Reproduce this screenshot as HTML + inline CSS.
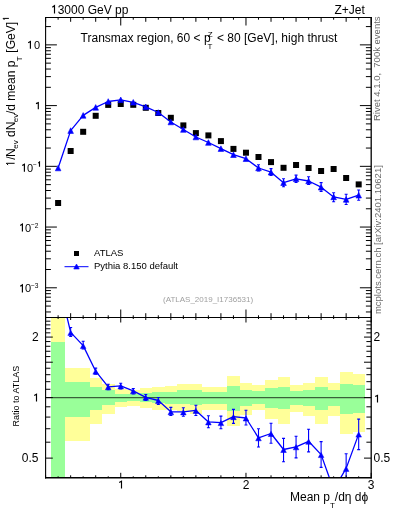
<!DOCTYPE html>
<html><head><meta charset="utf-8"><style>html,body{margin:0;padding:0;background:#fff;width:393px;height:512px;overflow:hidden;position:relative}</style></head><body>
<svg width="393" height="512" viewBox="0 0 393 512" style="position:absolute;left:0;top:0;will-change:transform">
<defs><clipPath id="cm"><rect x="45.60" y="17.50" width="325.60" height="300.00"/></clipPath>
<clipPath id="cr"><rect x="45.60" y="317.50" width="325.60" height="160.30"/></clipPath></defs>
<g clip-path="url(#cr)" shape-rendering="crispEdges">
<rect x="51.00" y="300.00" width="14.00" height="200.00" fill="#ffff99"/>
<rect x="65.00" y="368.10" width="12.00" height="72.70" fill="#ffff99"/>
<rect x="77.00" y="368.10" width="13.00" height="73.30" fill="#ffff99"/>
<rect x="90.00" y="378.00" width="12.00" height="45.70" fill="#ffff99"/>
<rect x="102.00" y="384.20" width="13.00" height="29.80" fill="#ffff99"/>
<rect x="115.00" y="389.00" width="12.00" height="17.50" fill="#ffff99"/>
<rect x="127.00" y="390.00" width="13.00" height="15.50" fill="#ffff99"/>
<rect x="140.00" y="388.40" width="12.00" height="19.40" fill="#ffff99"/>
<rect x="152.00" y="387.10" width="13.00" height="22.40" fill="#ffff99"/>
<rect x="165.00" y="386.20" width="12.00" height="23.80" fill="#ffff99"/>
<rect x="177.00" y="384.20" width="13.00" height="26.40" fill="#ffff99"/>
<rect x="190.00" y="384.00" width="12.00" height="29.50" fill="#ffff99"/>
<rect x="202.00" y="387.10" width="13.00" height="22.60" fill="#ffff99"/>
<rect x="215.00" y="387.10" width="12.00" height="22.60" fill="#ffff99"/>
<rect x="227.00" y="376.10" width="13.00" height="49.60" fill="#ffff99"/>
<rect x="240.00" y="383.30" width="12.00" height="31.40" fill="#ffff99"/>
<rect x="252.00" y="385.10" width="13.00" height="24.70" fill="#ffff99"/>
<rect x="265.00" y="380.40" width="13.00" height="38.60" fill="#ffff99"/>
<rect x="278.00" y="377.20" width="12.00" height="46.60" fill="#ffff99"/>
<rect x="290.00" y="385.10" width="13.00" height="26.40" fill="#ffff99"/>
<rect x="303.00" y="383.40" width="12.00" height="32.20" fill="#ffff99"/>
<rect x="315.00" y="376.90" width="13.00" height="46.90" fill="#ffff99"/>
<rect x="328.00" y="383.00" width="12.00" height="32.80" fill="#ffff99"/>
<rect x="340.00" y="372.20" width="13.00" height="61.70" fill="#ffff99"/>
<rect x="353.00" y="374.10" width="12.00" height="57.40" fill="#ffff99"/>
<rect x="51.00" y="342.00" width="14.00" height="158.00" fill="#99ff99"/>
<rect x="65.00" y="381.80" width="12.00" height="34.80" fill="#99ff99"/>
<rect x="77.00" y="381.80" width="13.00" height="34.80" fill="#99ff99"/>
<rect x="90.00" y="387.10" width="12.00" height="22.80" fill="#99ff99"/>
<rect x="102.00" y="390.00" width="13.00" height="15.30" fill="#99ff99"/>
<rect x="115.00" y="393.50" width="12.00" height="8.20" fill="#99ff99"/>
<rect x="127.00" y="394.00" width="13.00" height="7.00" fill="#99ff99"/>
<rect x="140.00" y="393.40" width="12.00" height="9.00" fill="#99ff99"/>
<rect x="152.00" y="392.20" width="13.00" height="10.50" fill="#99ff99"/>
<rect x="165.00" y="391.50" width="12.00" height="12.10" fill="#99ff99"/>
<rect x="177.00" y="390.30" width="13.00" height="14.00" fill="#99ff99"/>
<rect x="190.00" y="389.90" width="12.00" height="15.50" fill="#99ff99"/>
<rect x="202.00" y="392.10" width="13.00" height="11.50" fill="#99ff99"/>
<rect x="215.00" y="392.10" width="12.00" height="11.50" fill="#99ff99"/>
<rect x="227.00" y="386.00" width="13.00" height="24.50" fill="#99ff99"/>
<rect x="240.00" y="390.30" width="12.00" height="15.50" fill="#99ff99"/>
<rect x="252.00" y="391.10" width="13.00" height="12.90" fill="#99ff99"/>
<rect x="265.00" y="388.30" width="13.00" height="19.40" fill="#99ff99"/>
<rect x="278.00" y="386.80" width="12.00" height="22.60" fill="#99ff99"/>
<rect x="290.00" y="391.10" width="13.00" height="13.90" fill="#99ff99"/>
<rect x="303.00" y="389.60" width="12.00" height="16.30" fill="#99ff99"/>
<rect x="315.00" y="387.00" width="13.00" height="22.70" fill="#99ff99"/>
<rect x="328.00" y="390.00" width="12.00" height="16.40" fill="#99ff99"/>
<rect x="340.00" y="383.90" width="13.00" height="30.00" fill="#99ff99"/>
<rect x="353.00" y="384.60" width="12.00" height="28.20" fill="#99ff99"/>
</g>
<line x1="45.6" y1="397.6" x2="371.2" y2="397.6" stroke="#000" stroke-opacity="0.62" stroke-width="1.2"/>
<g clip-path="url(#cm)">
<rect x="55.12" y="200.00" width="6" height="6" fill="#000"/>
<rect x="67.65" y="148.00" width="6" height="6" fill="#000"/>
<rect x="80.17" y="128.80" width="6" height="6" fill="#000"/>
<rect x="92.69" y="112.80" width="6" height="6" fill="#000"/>
<rect x="105.22" y="101.90" width="6" height="6" fill="#000"/>
<rect x="117.74" y="101.00" width="6" height="6" fill="#000"/>
<rect x="130.26" y="101.80" width="6" height="6" fill="#000"/>
<rect x="142.78" y="104.80" width="6" height="6" fill="#000"/>
<rect x="155.31" y="110.00" width="6" height="6" fill="#000"/>
<rect x="167.83" y="114.80" width="6" height="6" fill="#000"/>
<rect x="180.35" y="122.40" width="6" height="6" fill="#000"/>
<rect x="192.88" y="130.10" width="6" height="6" fill="#000"/>
<rect x="205.40" y="132.40" width="6" height="6" fill="#000"/>
<rect x="217.92" y="138.10" width="6" height="6" fill="#000"/>
<rect x="230.45" y="145.90" width="6" height="6" fill="#000"/>
<rect x="242.97" y="149.70" width="6" height="6" fill="#000"/>
<rect x="255.49" y="154.00" width="6" height="6" fill="#000"/>
<rect x="268.02" y="159.10" width="6" height="6" fill="#000"/>
<rect x="280.54" y="164.80" width="6" height="6" fill="#000"/>
<rect x="293.06" y="162.00" width="6" height="6" fill="#000"/>
<rect x="305.58" y="165.00" width="6" height="6" fill="#000"/>
<rect x="318.11" y="168.00" width="6" height="6" fill="#000"/>
<rect x="330.63" y="166.00" width="6" height="6" fill="#000"/>
<rect x="343.15" y="175.00" width="6" height="6" fill="#000"/>
<rect x="355.68" y="181.40" width="6" height="6" fill="#000"/>
<polyline points="58.12,168.00 70.65,130.60 83.17,115.40 95.69,107.40 108.22,101.50 120.74,99.80 133.26,102.30 145.78,106.80 158.31,112.50 170.83,122.00 183.35,129.50 195.88,137.00 208.40,142.50 220.92,148.60 233.45,154.70 245.97,158.70 258.49,168.00 271.02,172.20 283.54,182.70 296.06,178.80 308.58,181.00 321.11,187.20 333.63,196.90 346.15,199.40 358.68,195.20" fill="none" stroke="#0000ff" stroke-width="1.3" stroke-linejoin="round"/>
<path d="M55.32,170.80 L60.92,170.80 L58.12,165.20 Z" fill="#0000ff" stroke="#0000ff" stroke-width="0.6" stroke-linejoin="round"/>
<path d="M67.85,133.40 L73.45,133.40 L70.65,127.80 Z" fill="#0000ff" stroke="#0000ff" stroke-width="0.6" stroke-linejoin="round"/>
<path d="M80.37,118.20 L85.97,118.20 L83.17,112.60 Z" fill="#0000ff" stroke="#0000ff" stroke-width="0.6" stroke-linejoin="round"/>
<path d="M92.89,110.20 L98.49,110.20 L95.69,104.60 Z" fill="#0000ff" stroke="#0000ff" stroke-width="0.6" stroke-linejoin="round"/>
<path d="M105.42,104.30 L111.02,104.30 L108.22,98.70 Z" fill="#0000ff" stroke="#0000ff" stroke-width="0.6" stroke-linejoin="round"/>
<path d="M117.94,102.60 L123.54,102.60 L120.74,97.00 Z" fill="#0000ff" stroke="#0000ff" stroke-width="0.6" stroke-linejoin="round"/>
<path d="M130.46,105.10 L136.06,105.10 L133.26,99.50 Z" fill="#0000ff" stroke="#0000ff" stroke-width="0.6" stroke-linejoin="round"/>
<path d="M142.98,109.60 L148.58,109.60 L145.78,104.00 Z" fill="#0000ff" stroke="#0000ff" stroke-width="0.6" stroke-linejoin="round"/>
<path d="M155.51,115.30 L161.11,115.30 L158.31,109.70 Z" fill="#0000ff" stroke="#0000ff" stroke-width="0.6" stroke-linejoin="round"/>
<path d="M168.03,124.80 L173.63,124.80 L170.83,119.20 Z" fill="#0000ff" stroke="#0000ff" stroke-width="0.6" stroke-linejoin="round"/>
<path d="M180.55,132.30 L186.15,132.30 L183.35,126.70 Z" fill="#0000ff" stroke="#0000ff" stroke-width="0.6" stroke-linejoin="round"/>
<path d="M193.08,139.80 L198.68,139.80 L195.88,134.20 Z" fill="#0000ff" stroke="#0000ff" stroke-width="0.6" stroke-linejoin="round"/>
<path d="M205.60,145.30 L211.20,145.30 L208.40,139.70 Z" fill="#0000ff" stroke="#0000ff" stroke-width="0.6" stroke-linejoin="round"/>
<path d="M218.12,151.40 L223.72,151.40 L220.92,145.80 Z" fill="#0000ff" stroke="#0000ff" stroke-width="0.6" stroke-linejoin="round"/>
<path d="M230.65,157.50 L236.25,157.50 L233.45,151.90 Z" fill="#0000ff" stroke="#0000ff" stroke-width="0.6" stroke-linejoin="round"/>
<path d="M243.17,161.50 L248.77,161.50 L245.97,155.90 Z" fill="#0000ff" stroke="#0000ff" stroke-width="0.6" stroke-linejoin="round"/>
<path d="M258.49,164.79 V170.98 M256.99,164.79 h3 M256.99,170.98 h3" stroke="#0000ff" stroke-width="1.1" fill="none"/>
<path d="M255.69,170.80 L261.29,170.80 L258.49,165.20 Z" fill="#0000ff" stroke="#0000ff" stroke-width="0.6" stroke-linejoin="round"/>
<path d="M271.02,168.61 V175.38 M269.52,168.61 h3 M269.52,175.38 h3" stroke="#0000ff" stroke-width="1.1" fill="none"/>
<path d="M268.22,175.00 L273.82,175.00 L271.02,169.40 Z" fill="#0000ff" stroke="#0000ff" stroke-width="0.6" stroke-linejoin="round"/>
<path d="M283.54,178.81 V186.73 M282.04,178.81 h3 M282.04,186.73 h3" stroke="#0000ff" stroke-width="1.1" fill="none"/>
<path d="M280.74,185.50 L286.34,185.50 L283.54,179.90 Z" fill="#0000ff" stroke="#0000ff" stroke-width="0.6" stroke-linejoin="round"/>
<path d="M296.06,175.11 V182.42 M294.56,175.11 h3 M294.56,182.42 h3" stroke="#0000ff" stroke-width="1.1" fill="none"/>
<path d="M293.26,181.60 L298.86,181.60 L296.06,176.00 Z" fill="#0000ff" stroke="#0000ff" stroke-width="0.6" stroke-linejoin="round"/>
<path d="M308.58,176.77 V184.45 M307.08,176.77 h3 M307.08,184.45 h3" stroke="#0000ff" stroke-width="1.1" fill="none"/>
<path d="M305.78,183.80 L311.38,183.80 L308.58,178.20 Z" fill="#0000ff" stroke="#0000ff" stroke-width="0.6" stroke-linejoin="round"/>
<path d="M321.11,182.67 V191.40 M319.61,182.67 h3 M319.61,191.40 h3" stroke="#0000ff" stroke-width="1.1" fill="none"/>
<path d="M318.31,190.00 L323.91,190.00 L321.11,184.40 Z" fill="#0000ff" stroke="#0000ff" stroke-width="0.6" stroke-linejoin="round"/>
<path d="M333.63,192.8 V201.8 M332.13,192.8 h3 M332.13,201.8 h3" stroke="#0000ff" stroke-width="1.1" fill="none"/>
<path d="M330.83,199.70 L336.43,199.70 L333.63,194.10 Z" fill="#0000ff" stroke="#0000ff" stroke-width="0.6" stroke-linejoin="round"/>
<path d="M346.15,194.32 V204.54 M344.65,194.32 h3 M344.65,204.54 h3" stroke="#0000ff" stroke-width="1.1" fill="none"/>
<path d="M343.35,202.20 L348.95,202.20 L346.15,196.60 Z" fill="#0000ff" stroke="#0000ff" stroke-width="0.6" stroke-linejoin="round"/>
<path d="M358.68,189.99 V200.31 M357.18,189.99 h3 M357.18,200.31 h3" stroke="#0000ff" stroke-width="1.1" fill="none"/>
<path d="M355.88,198.00 L361.48,198.00 L358.68,192.40 Z" fill="#0000ff" stroke="#0000ff" stroke-width="0.6" stroke-linejoin="round"/>
</g>
<g clip-path="url(#cr)">
<polyline points="58.12,279.60 70.65,332.40 83.17,345.60 95.69,371.20 108.22,386.80 120.74,385.90 133.26,390.80 145.78,397.30 158.31,400.50 170.83,411.80 183.35,411.90 195.88,410.40 208.40,421.90 220.92,422.60 233.45,416.70 245.97,418.00 258.49,437.80 271.02,433.50 283.54,449.50 296.06,446.80 308.58,441.30 321.11,454.60 333.63,489.60 346.15,468.40 358.68,434.10" fill="none" stroke="#0000ff" stroke-width="1.3" stroke-linejoin="round"/>
<path d="M55.32,282.60 L60.92,282.60 L58.12,277.40 Z" fill="#0000ff" stroke="#0000ff" stroke-width="0.5" stroke-linejoin="round"/>
<path d="M70.65,327.50 V336.50 M69.15,327.50 h3 M69.15,336.50 h3" stroke="#0000ff" stroke-width="1.1" fill="none"/>
<path d="M67.85,335.40 L73.45,335.40 L70.65,330.20 Z" fill="#0000ff" stroke="#0000ff" stroke-width="0.5" stroke-linejoin="round"/>
<path d="M83.17,341.30 V349.00 M81.67,341.30 h3 M81.67,349.00 h3" stroke="#0000ff" stroke-width="1.1" fill="none"/>
<path d="M80.37,348.60 L85.97,348.60 L83.17,343.40 Z" fill="#0000ff" stroke="#0000ff" stroke-width="0.5" stroke-linejoin="round"/>
<path d="M95.69,368.10 V374.20 M94.19,368.10 h3 M94.19,374.20 h3" stroke="#0000ff" stroke-width="1.1" fill="none"/>
<path d="M92.89,374.20 L98.49,374.20 L95.69,369.00 Z" fill="#0000ff" stroke="#0000ff" stroke-width="0.5" stroke-linejoin="round"/>
<path d="M108.22,384.20 V389.70 M106.72,384.20 h3 M106.72,389.70 h3" stroke="#0000ff" stroke-width="1.1" fill="none"/>
<path d="M105.42,389.80 L111.02,389.80 L108.22,384.60 Z" fill="#0000ff" stroke="#0000ff" stroke-width="0.5" stroke-linejoin="round"/>
<path d="M120.74,383.30 V389.00 M119.24,383.30 h3 M119.24,389.00 h3" stroke="#0000ff" stroke-width="1.1" fill="none"/>
<path d="M117.94,388.90 L123.54,388.90 L120.74,383.70 Z" fill="#0000ff" stroke="#0000ff" stroke-width="0.5" stroke-linejoin="round"/>
<path d="M133.26,388.50 V394.00 M131.76,388.50 h3 M131.76,394.00 h3" stroke="#0000ff" stroke-width="1.1" fill="none"/>
<path d="M130.46,393.80 L136.06,393.80 L133.26,388.60 Z" fill="#0000ff" stroke="#0000ff" stroke-width="0.5" stroke-linejoin="round"/>
<path d="M145.78,394.50 V400.50 M144.28,394.50 h3 M144.28,400.50 h3" stroke="#0000ff" stroke-width="1.1" fill="none"/>
<path d="M142.98,400.30 L148.58,400.30 L145.78,395.10 Z" fill="#0000ff" stroke="#0000ff" stroke-width="0.5" stroke-linejoin="round"/>
<path d="M158.31,397.50 V404.50 M156.81,397.50 h3 M156.81,404.50 h3" stroke="#0000ff" stroke-width="1.1" fill="none"/>
<path d="M155.51,403.50 L161.11,403.50 L158.31,398.30 Z" fill="#0000ff" stroke="#0000ff" stroke-width="0.5" stroke-linejoin="round"/>
<path d="M170.83,407.40 V415.50 M169.33,407.40 h3 M169.33,415.50 h3" stroke="#0000ff" stroke-width="1.1" fill="none"/>
<path d="M168.03,414.80 L173.63,414.80 L170.83,409.60 Z" fill="#0000ff" stroke="#0000ff" stroke-width="0.5" stroke-linejoin="round"/>
<path d="M183.35,407.80 V416.30 M181.85,407.80 h3 M181.85,416.30 h3" stroke="#0000ff" stroke-width="1.1" fill="none"/>
<path d="M180.55,414.90 L186.15,414.90 L183.35,409.70 Z" fill="#0000ff" stroke="#0000ff" stroke-width="0.5" stroke-linejoin="round"/>
<path d="M195.88,405.20 V415.50 M194.38,405.20 h3 M194.38,415.50 h3" stroke="#0000ff" stroke-width="1.1" fill="none"/>
<path d="M193.08,413.40 L198.68,413.40 L195.88,408.20 Z" fill="#0000ff" stroke="#0000ff" stroke-width="0.5" stroke-linejoin="round"/>
<path d="M208.40,415.80 V427.70 M206.90,415.80 h3 M206.90,427.70 h3" stroke="#0000ff" stroke-width="1.1" fill="none"/>
<path d="M205.60,424.90 L211.20,424.90 L208.40,419.70 Z" fill="#0000ff" stroke="#0000ff" stroke-width="0.5" stroke-linejoin="round"/>
<path d="M220.92,416.10 V428.80 M219.42,416.10 h3 M219.42,428.80 h3" stroke="#0000ff" stroke-width="1.1" fill="none"/>
<path d="M218.12,425.60 L223.72,425.60 L220.92,420.40 Z" fill="#0000ff" stroke="#0000ff" stroke-width="0.5" stroke-linejoin="round"/>
<path d="M233.45,409.40 V423.40 M231.95,409.40 h3 M231.95,423.40 h3" stroke="#0000ff" stroke-width="1.1" fill="none"/>
<path d="M230.65,419.70 L236.25,419.70 L233.45,414.50 Z" fill="#0000ff" stroke="#0000ff" stroke-width="0.5" stroke-linejoin="round"/>
<path d="M245.97,410.30 V425.00 M244.47,410.30 h3 M244.47,425.00 h3" stroke="#0000ff" stroke-width="1.1" fill="none"/>
<path d="M243.17,421.00 L248.77,421.00 L245.97,415.80 Z" fill="#0000ff" stroke="#0000ff" stroke-width="0.5" stroke-linejoin="round"/>
<path d="M258.49,428.70 V447.00 M256.99,428.70 h3 M256.99,447.00 h3" stroke="#0000ff" stroke-width="1.1" fill="none"/>
<path d="M255.69,440.80 L261.29,440.80 L258.49,435.60 Z" fill="#0000ff" stroke="#0000ff" stroke-width="0.5" stroke-linejoin="round"/>
<path d="M271.02,423.30 V443.30 M269.52,423.30 h3 M269.52,443.30 h3" stroke="#0000ff" stroke-width="1.1" fill="none"/>
<path d="M268.22,436.50 L273.82,436.50 L271.02,431.30 Z" fill="#0000ff" stroke="#0000ff" stroke-width="0.5" stroke-linejoin="round"/>
<path d="M283.54,438.40 V461.80 M282.04,438.40 h3 M282.04,461.80 h3" stroke="#0000ff" stroke-width="1.1" fill="none"/>
<path d="M280.74,452.50 L286.34,452.50 L283.54,447.30 Z" fill="#0000ff" stroke="#0000ff" stroke-width="0.5" stroke-linejoin="round"/>
<path d="M296.06,436.30 V457.90 M294.56,436.30 h3 M294.56,457.90 h3" stroke="#0000ff" stroke-width="1.1" fill="none"/>
<path d="M293.26,449.80 L298.86,449.80 L296.06,444.60 Z" fill="#0000ff" stroke="#0000ff" stroke-width="0.5" stroke-linejoin="round"/>
<path d="M308.58,429.20 V451.90 M307.08,429.20 h3 M307.08,451.90 h3" stroke="#0000ff" stroke-width="1.1" fill="none"/>
<path d="M305.78,444.30 L311.38,444.30 L308.58,439.10 Z" fill="#0000ff" stroke="#0000ff" stroke-width="0.5" stroke-linejoin="round"/>
<path d="M321.11,441.60 V467.40 M319.61,441.60 h3 M319.61,467.40 h3" stroke="#0000ff" stroke-width="1.1" fill="none"/>
<path d="M318.31,457.60 L323.91,457.60 L321.11,452.40 Z" fill="#0000ff" stroke="#0000ff" stroke-width="0.5" stroke-linejoin="round"/>
<path d="M330.83,492.60 L336.43,492.60 L333.63,487.40 Z" fill="#0000ff" stroke="#0000ff" stroke-width="0.5" stroke-linejoin="round"/>
<path d="M346.15,453.80 V484.00 M344.65,453.80 h3 M344.65,484.00 h3" stroke="#0000ff" stroke-width="1.1" fill="none"/>
<path d="M343.35,471.40 L348.95,471.40 L346.15,466.20 Z" fill="#0000ff" stroke="#0000ff" stroke-width="0.5" stroke-linejoin="round"/>
<path d="M358.68,419.10 V449.60 M357.18,419.10 h3 M357.18,449.60 h3" stroke="#0000ff" stroke-width="1.1" fill="none"/>
<path d="M355.88,437.10 L361.48,437.10 L358.68,431.90 Z" fill="#0000ff" stroke="#0000ff" stroke-width="0.5" stroke-linejoin="round"/>
</g>
<path d="M45.60,17.50L45.60,21.80 M45.60,317.50L45.60,313.20 M45.60,317.50L45.60,320.00 M45.60,477.80L45.60,475.30 M58.12,17.50L58.12,19.70 M58.12,317.50L58.12,315.30 M58.12,317.50L58.12,319.00 M58.12,477.80L58.12,476.30 M70.65,17.50L70.65,21.80 M70.65,317.50L70.65,313.20 M70.65,317.50L70.65,320.00 M70.65,477.80L70.65,475.30 M83.17,17.50L83.17,19.70 M83.17,317.50L83.17,315.30 M83.17,317.50L83.17,319.00 M83.17,477.80L83.17,476.30 M95.69,17.50L95.69,21.80 M95.69,317.50L95.69,313.20 M95.69,317.50L95.69,320.00 M95.69,477.80L95.69,475.30 M108.22,17.50L108.22,19.70 M108.22,317.50L108.22,315.30 M108.22,317.50L108.22,319.00 M108.22,477.80L108.22,476.30 M120.74,17.50L120.74,25.50 M120.74,317.50L120.74,309.50 M120.74,317.50L120.74,322.50 M120.74,477.80L120.74,472.80 M133.26,17.50L133.26,19.70 M133.26,317.50L133.26,315.30 M133.26,317.50L133.26,319.00 M133.26,477.80L133.26,476.30 M145.78,17.50L145.78,21.80 M145.78,317.50L145.78,313.20 M145.78,317.50L145.78,320.00 M145.78,477.80L145.78,475.30 M158.31,17.50L158.31,19.70 M158.31,317.50L158.31,315.30 M158.31,317.50L158.31,319.00 M158.31,477.80L158.31,476.30 M170.83,17.50L170.83,21.80 M170.83,317.50L170.83,313.20 M170.83,317.50L170.83,320.00 M170.83,477.80L170.83,475.30 M183.35,17.50L183.35,19.70 M183.35,317.50L183.35,315.30 M183.35,317.50L183.35,319.00 M183.35,477.80L183.35,476.30 M195.88,17.50L195.88,21.80 M195.88,317.50L195.88,313.20 M195.88,317.50L195.88,320.00 M195.88,477.80L195.88,475.30 M208.40,17.50L208.40,19.70 M208.40,317.50L208.40,315.30 M208.40,317.50L208.40,319.00 M208.40,477.80L208.40,476.30 M220.92,17.50L220.92,21.80 M220.92,317.50L220.92,313.20 M220.92,317.50L220.92,320.00 M220.92,477.80L220.92,475.30 M233.45,17.50L233.45,19.70 M233.45,317.50L233.45,315.30 M233.45,317.50L233.45,319.00 M233.45,477.80L233.45,476.30 M245.97,17.50L245.97,25.50 M245.97,317.50L245.97,309.50 M245.97,317.50L245.97,322.50 M245.97,477.80L245.97,472.80 M258.49,17.50L258.49,19.70 M258.49,317.50L258.49,315.30 M258.49,317.50L258.49,319.00 M258.49,477.80L258.49,476.30 M271.02,17.50L271.02,21.80 M271.02,317.50L271.02,313.20 M271.02,317.50L271.02,320.00 M271.02,477.80L271.02,475.30 M283.54,17.50L283.54,19.70 M283.54,317.50L283.54,315.30 M283.54,317.50L283.54,319.00 M283.54,477.80L283.54,476.30 M296.06,17.50L296.06,21.80 M296.06,317.50L296.06,313.20 M296.06,317.50L296.06,320.00 M296.06,477.80L296.06,475.30 M308.58,17.50L308.58,19.70 M308.58,317.50L308.58,315.30 M308.58,317.50L308.58,319.00 M308.58,477.80L308.58,476.30 M321.11,17.50L321.11,21.80 M321.11,317.50L321.11,313.20 M321.11,317.50L321.11,320.00 M321.11,477.80L321.11,475.30 M333.63,17.50L333.63,19.70 M333.63,317.50L333.63,315.30 M333.63,317.50L333.63,319.00 M333.63,477.80L333.63,476.30 M346.15,17.50L346.15,21.80 M346.15,317.50L346.15,313.20 M346.15,317.50L346.15,320.00 M346.15,477.80L346.15,475.30 M358.68,17.50L358.68,19.70 M358.68,317.50L358.68,315.30 M358.68,317.50L358.68,319.00 M358.68,477.80L358.68,476.30 M371.20,17.50L371.20,25.50 M371.20,317.50L371.20,309.50 M371.20,317.50L371.20,322.50 M371.20,477.80L371.20,472.80 M45.60,311.96L50.90,311.96 M371.20,311.96L365.90,311.96 M45.60,306.07L50.90,306.07 M371.20,306.07L365.90,306.07 M45.60,301.26L50.90,301.26 M371.20,301.26L365.90,301.26 M45.60,297.20L50.90,297.20 M371.20,297.20L365.90,297.20 M45.60,293.68L50.90,293.68 M371.20,293.68L365.90,293.68 M45.60,290.57L50.90,290.57 M371.20,290.57L365.90,290.57 M45.60,287.79L56.90,287.79 M371.20,287.79L359.90,287.79 M45.60,269.51L50.90,269.51 M371.20,269.51L365.90,269.51 M45.60,258.81L50.90,258.81 M371.20,258.81L365.90,258.81 M45.60,251.23L50.90,251.23 M371.20,251.23L365.90,251.23 M45.60,245.34L50.90,245.34 M371.20,245.34L365.90,245.34 M45.60,240.53L50.90,240.53 M371.20,240.53L365.90,240.53 M45.60,236.47L50.90,236.47 M371.20,236.47L365.90,236.47 M45.60,232.95L50.90,232.95 M371.20,232.95L365.90,232.95 M45.60,229.84L50.90,229.84 M371.20,229.84L365.90,229.84 M45.60,227.06L56.90,227.06 M371.20,227.06L359.90,227.06 M45.60,208.78L50.90,208.78 M371.20,208.78L365.90,208.78 M45.60,198.08L50.90,198.08 M371.20,198.08L365.90,198.08 M45.60,190.50L50.90,190.50 M371.20,190.50L365.90,190.50 M45.60,184.61L50.90,184.61 M371.20,184.61L365.90,184.61 M45.60,179.80L50.90,179.80 M371.20,179.80L365.90,179.80 M45.60,175.74L50.90,175.74 M371.20,175.74L365.90,175.74 M45.60,172.22L50.90,172.22 M371.20,172.22L365.90,172.22 M45.60,169.11L50.90,169.11 M371.20,169.11L365.90,169.11 M45.60,166.33L56.90,166.33 M371.20,166.33L359.90,166.33 M45.60,148.05L50.90,148.05 M371.20,148.05L365.90,148.05 M45.60,137.35L50.90,137.35 M371.20,137.35L365.90,137.35 M45.60,129.77L50.90,129.77 M371.20,129.77L365.90,129.77 M45.60,123.88L50.90,123.88 M371.20,123.88L365.90,123.88 M45.60,119.07L50.90,119.07 M371.20,119.07L365.90,119.07 M45.60,115.01L50.90,115.01 M371.20,115.01L365.90,115.01 M45.60,111.49L50.90,111.49 M371.20,111.49L365.90,111.49 M45.60,108.38L50.90,108.38 M371.20,108.38L365.90,108.38 M45.60,105.60L56.90,105.60 M371.20,105.60L359.90,105.60 M45.60,87.32L50.90,87.32 M371.20,87.32L365.90,87.32 M45.60,76.62L50.90,76.62 M371.20,76.62L365.90,76.62 M45.60,69.04L50.90,69.04 M371.20,69.04L365.90,69.04 M45.60,63.15L50.90,63.15 M371.20,63.15L365.90,63.15 M45.60,58.34L50.90,58.34 M371.20,58.34L365.90,58.34 M45.60,54.28L50.90,54.28 M371.20,54.28L365.90,54.28 M45.60,50.76L50.90,50.76 M371.20,50.76L365.90,50.76 M45.60,47.65L50.90,47.65 M371.20,47.65L365.90,47.65 M45.60,44.87L56.90,44.87 M371.20,44.87L359.90,44.87 M45.60,26.59L50.90,26.59 M371.20,26.59L365.90,26.59 M45.60,458.11L52.80,458.11 M371.20,458.11L364.00,458.11 M45.60,442.19L50.40,442.19 M371.20,442.19L366.40,442.19 M45.60,428.74L50.40,428.74 M371.20,428.74L366.40,428.74 M45.60,417.08L50.40,417.08 M371.20,417.08L366.40,417.08 M45.60,406.80L50.40,406.80 M371.20,406.80L366.40,406.80 M45.60,397.60L52.80,397.60 M371.20,397.60L364.00,397.60 M45.60,389.28L50.40,389.28 M371.20,389.28L366.40,389.28 M45.60,381.68L50.40,381.68 M371.20,381.68L366.40,381.68 M45.60,374.70L50.40,374.70 M371.20,374.70L366.40,374.70 M45.60,368.23L50.40,368.23 M371.20,368.23L366.40,368.23 M45.60,362.21L52.80,362.21 M371.20,362.21L364.00,362.21 M45.60,356.57L50.40,356.57 M371.20,356.57L366.40,356.57 M45.60,351.28L50.40,351.28 M371.20,351.28L366.40,351.28 M45.60,346.29L50.40,346.29 M371.20,346.29L366.40,346.29 M45.60,341.57L50.40,341.57 M371.20,341.57L366.40,341.57 M45.60,337.09L52.80,337.09 M371.20,337.09L364.00,337.09 M45.60,332.83L50.40,332.83 M371.20,332.83L366.40,332.83 M45.60,328.77L50.40,328.77 M371.20,328.77L366.40,328.77 M45.60,324.89L50.40,324.89 M371.20,324.89L366.40,324.89 M45.60,321.18L50.40,321.18 M371.20,321.18L366.40,321.18" stroke="#000" stroke-width="1" fill="none"/>
<path d="M45.0,17.5H371.8M45.0,317.5H371.8" stroke="#000" stroke-width="1.1"/>
<path d="M45.0,477.8H371.8" stroke="#000" stroke-width="1.5"/>
<path d="M45.6,16.9V478.5" stroke="#000" stroke-width="1.1"/>
<path d="M371.2,16.9V478.5" stroke="#000" stroke-width="1.3"/>
<text x="57.67" y="13.70" font-family="Liberation Sans" font-size="12" text-anchor="start" fill="#000" >3000 GeV pp</text>
<text x="364.80" y="14.00" font-family="Liberation Sans" font-size="12" text-anchor="end" fill="#000" >Z+Jet</text>
<text x="80.60" y="41.70" font-family="Liberation Sans" font-size="12" text-anchor="start" fill="#000" >Transmax region, 60 &lt; p</text>
<text x="207.80" y="36.60" font-family="Liberation Sans" font-size="8" text-anchor="start" fill="#000" >Z</text>
<text x="207.60" y="48.90" font-family="Liberation Sans" font-size="8" text-anchor="start" fill="#000" >T</text>
<text x="217.00" y="41.70" font-family="Liberation Sans" font-size="12" text-anchor="start" fill="#000" >&lt; 80 [GeV], high thrust</text>
<text x="34.00" y="48.70" font-family="Liberation Sans" font-size="11" text-anchor="start" fill="#000" >0</text>
<text x="27.00" y="171.70" font-family="Liberation Sans" font-size="11" text-anchor="start" fill="#000" >0</text>
<text x="33.1" y="167.10" font-family="Liberation Sans" font-size="6.6">&#8722;</text>
<text x="25.00" y="231.50" font-family="Liberation Sans" font-size="11" text-anchor="start" fill="#000" >0</text>
<text x="31.1" y="226.90" font-family="Liberation Sans" font-size="6.6">&#8722;</text>
<text x="34.80" y="227.50" font-family="Liberation Sans" font-size="6.6" text-anchor="start" fill="#000" >2</text>
<text x="25.00" y="292.40" font-family="Liberation Sans" font-size="11" text-anchor="start" fill="#000" >0</text>
<text x="31.1" y="287.80" font-family="Liberation Sans" font-size="6.6">&#8722;</text>
<text x="34.80" y="288.40" font-family="Liberation Sans" font-size="6.6" text-anchor="start" fill="#000" >3</text>
<text x="38.80" y="341.19" font-family="Liberation Sans" font-size="12" text-anchor="end" fill="#000" >2</text>
<text x="38.50" y="462.41" font-family="Liberation Sans" font-size="12" text-anchor="end" fill="#000" >0.5</text>
<text x="373.60" y="341.39" font-family="Liberation Sans" font-size="12" text-anchor="start" fill="#000" >2</text>
<text x="373.60" y="462.41" font-family="Liberation Sans" font-size="12" text-anchor="start" fill="#000" >0.5</text>
<text x="245.97" y="489.30" font-family="Liberation Sans" font-size="12" text-anchor="middle" fill="#000" >2</text>
<text x="371.20" y="489.30" font-family="Liberation Sans" font-size="12" text-anchor="middle" fill="#000" >3</text>
<text x="290.00" y="501.30" font-family="Liberation Sans" font-size="12" text-anchor="start" fill="#000" >Mean p</text>
<text x="329.90" y="508.00" font-family="Liberation Sans" font-size="8" text-anchor="start" fill="#000" >T</text>
<text x="334.80" y="501.30" font-family="Liberation Sans" font-size="12" text-anchor="start" fill="#000" >/d&#951; d&#981;</text>
<rect x="74" y="251" width="5" height="5" fill="#000"/>
<text x="94.00" y="256.10" font-family="Liberation Sans" font-size="9.5" text-anchor="start" fill="#000" >ATLAS</text>
<line x1="64.5" y1="266.7" x2="88.5" y2="266.7" stroke="#0000ff" stroke-width="1"/>
<path d="M73.75,269.00 L79.25,269.00 L76.50,264.00 Z" fill="#0000ff" stroke="#0000ff" stroke-width="0.6" stroke-linejoin="round"/>
<text x="94.00" y="268.50" font-family="Liberation Sans" font-size="9.5" text-anchor="start" fill="#000" >Pythia 8.150 default</text>
<text x="163.00" y="302.30" font-family="Liberation Sans" font-size="8" text-anchor="start" fill="#a0a0a0" >(ATLAS_2019_I1736531)</text>
<g transform="translate(14.8,166) rotate(-90)"><text x="6.2" y="0" font-family="Liberation Sans" font-size="12" style="white-space:pre">/</text><text x="9" y="0" font-family="Liberation Sans" font-size="12" style="white-space:pre">N</text><text x="17.3" y="3.6" font-family="Liberation Sans" font-size="8" style="white-space:pre">ev</text><text x="29.0" y="0" font-family="Liberation Sans" font-size="12" style="white-space:pre">d</text><text x="35.7" y="0" font-family="Liberation Sans" font-size="12" style="white-space:pre">N</text><text x="43.7" y="3.6" font-family="Liberation Sans" font-size="8" style="white-space:pre">ev</text><text x="52" y="0" font-family="Liberation Sans" font-size="12" style="white-space:pre">/d mean p</text><text x="104.7" y="7" font-family="Liberation Sans" font-size="8" style="white-space:pre">T</text><text x="113.3" y="0" font-family="Liberation Sans" font-size="12" style="white-space:pre">[GeV]</text></g>
<text transform="translate(18.9,426.5) rotate(-90)" font-family="Liberation Sans" font-size="9">Ratio to ATLAS</text>
<text transform="translate(380.4,121) rotate(-90)" font-family="Liberation Sans" font-size="9.5" fill="#6a6a6a" style="white-space:pre">Rivet 4.1.0,  700k events</text>
<text transform="translate(381,314.1) rotate(-90)" font-family="Liberation Sans" font-size="9.5" fill="#6a6a6a">mcplots.cern.ch [arXiv:2401.10621]</text>
<path d="M14.6,163.3H6.3L8.1,165.0M8.9,18.4H3.1L4.4,19.9" stroke="#000" stroke-width="1" fill="none"/>
<path d="M54.50,13.60V5.70L52.30,7.30 M30.40,48.70V41.40L28.20,42.70 M38.30,109.30V102.60L36.00,103.60 M24.40,171.70V164.20L22.20,165.60 M39.50,166.80V162.10L38.30,163.10 M22.40,231.50V224.00L20.20,225.40 M22.40,292.40V284.90L20.20,286.30 M36.50,401.40V394.30L34.20,395.50 M377.50,402.50V395.40L375.20,396.60 M121.50,488.60V481.30L119.20,482.60" stroke="#000" stroke-width="1.15" fill="none" stroke-linecap="butt"/>
</svg>
</body></html>
